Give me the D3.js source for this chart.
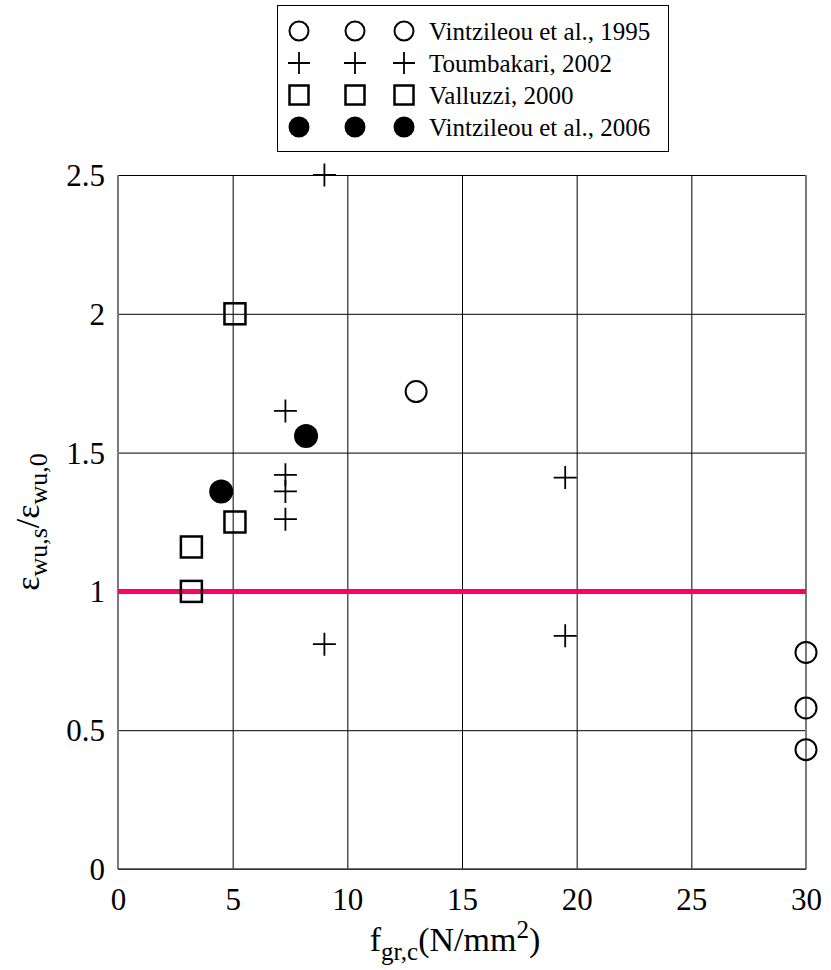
<!DOCTYPE html>
<html><head><meta charset="utf-8">
<script src="https://cdn.jsdelivr.net/npm/d3@7"></script>
<style>
body{margin:0;background:#fff;}
</style></head>
<body><svg id="c" width="831" height="970"></svg>
<script>
const xTicks = [0,5,10,15,20,25,30];
const yTicks = [0,0.5,1,1.5,2,2.5];
const yTickLabels = ["0","0.5","1","1.5","2","2.5"];
const seriesNames = ["Vintzileou et al., 1995","Toumbakari, 2002","Valluzzi, 2000","Vintzileou et al., 2006"];
const v1995X = [13,30,30,30];
const v1995Y = [1.72,0.78,0.58,0.43];
const toumbX = [9,7.3,7.3,7.3,7.3,9,19.5,19.5];
const toumbY = [2.5,1.65,1.42,1.36,1.26,0.81,1.41,0.84];
const vallX = [5.1,5.1,3.2,3.2];
const vallY = [2.0,1.25,1.16,1.0];
const v2006X = [4.5,8.2];
const v2006Y = [1.36,1.56];
const refLineY = 1;

const FONT = '"Liberation Serif", Tinos, "Times New Roman", serif';

const svg = d3.select("#c");
const L=118,R=806,T=175,B=869;
const x = d3.scaleLinear().domain([0,30]).range([L,R]);
const y = d3.scaleLinear().domain([0,2.5]).range([B,T]);

const g = svg.append("g");
g.append("g").attr("transform",`translate(0,${B})`)
 .call(d3.axisBottom(x).tickValues(xTicks).tickSize(-(B-T)).tickFormat(""))
 .call(s=>s.select(".domain").remove())
 .call(s=>s.selectAll("line").attr("stroke","#000").attr("stroke-width",1));
g.append("g").attr("transform",`translate(${L},0)`)
 .call(d3.axisLeft(y).tickValues(yTicks).tickSize(-(R-L)).tickFormat(""))
 .call(s=>s.select(".domain").remove())
 .call(s=>s.selectAll("line").attr("stroke","#000").attr("stroke-width",1));
svg.append("line").attr("x1",L).attr("x2",L).attr("y1",T).attr("y2",B).attr("stroke","#7a7a7a").attr("stroke-width",2);
svg.append("line").attr("x1",R).attr("x2",R).attr("y1",T).attr("y2",B).attr("stroke","#7a7a7a").attr("stroke-width",2);
svg.append("line").attr("x1",L).attr("x2",R).attr("y1",B).attr("y2",B).attr("stroke","#444").attr("stroke-width",1.5);

svg.append("g").attr("transform",`translate(0,${B})`)
 .call(d3.axisBottom(x).tickValues(xTicks).tickSize(0).tickPadding(0).tickFormat(d3.format("d")))
 .attr("font-family",FONT)
 .call(s=>s.select(".domain").remove())
 .call(s=>s.selectAll("text").attr("dy",null).attr("y",41).attr("font-size",31).attr("fill","#000"));
svg.append("g").attr("transform",`translate(105,0)`)
 .call(d3.axisLeft(y).tickValues(yTicks).tickSize(0).tickPadding(0).tickFormat((d,i)=>yTickLabels[i]))
 .attr("font-family",FONT)
 .call(s=>s.select(".domain").remove())
 .call(s=>s.selectAll("text").attr("x",0).attr("dy","0.34em").attr("font-size",31).attr("fill","#000"));

const xl = svg.append("text").attr("x",455).attr("y",951).attr("text-anchor","middle").attr("font-size",34).attr("font-family",FONT);
xl.append("tspan").text("f");
xl.append("tspan").attr("font-size",25).attr("dy",9).text("gr,c");
xl.append("tspan").attr("dy",-9).text("(N/mm");
xl.append("tspan").attr("font-size",25).attr("dy",-13).text("2");
xl.append("tspan").attr("dy",13).text(")");

const yl = svg.append("text").attr("transform",`translate(39,${(T+B)/2}) rotate(-90)`).attr("text-anchor","middle").attr("font-size",34).attr("font-family",FONT);
yl.append("tspan").text("ε");
yl.append("tspan").attr("font-size",26).attr("dy",8).text("wu,s");
yl.append("tspan").attr("dy",-8).text("/ε");
yl.append("tspan").attr("font-size",26).attr("dy",8).text("wu,0");

svg.append("line").attr("x1",x(0)).attr("x2",x(30)).attr("y1",y(refLineY)).attr("y2",y(refLineY))
 .attr("stroke","#ff0066").attr("stroke-width",5);

function circ(sel, r, filled){ sel.append("circle").attr("r",r).attr("fill",filled?"#000":"none").attr("stroke","#000").attr("stroke-width",filled?0:2); }
function plus(sel, h){ sel.append("path").attr("d",`M${-h},0H${h}M0,${-h}V${h}`).attr("stroke","#000").attr("stroke-width",1.8).attr("fill","none"); }
function sq(sel, h){ sel.append("rect").attr("x",-h).attr("y",-h).attr("width",2*h).attr("height",2*h).attr("fill","none").attr("stroke","#000").attr("stroke-width",2.5); }

const m = svg.append("g");
m.selectAll(".c95").data(d3.range(v1995X.length)).join("g").attr("transform",i=>`translate(${x(v1995X[i])},${y(v1995Y[i])})`).each(function(){circ(d3.select(this),10.5,false);});
m.selectAll(".tb").data(d3.range(toumbX.length)).join("g").attr("transform",i=>`translate(${x(toumbX[i])},${y(toumbY[i])})`).each(function(){plus(d3.select(this),11.5);});
m.selectAll(".va").data(d3.range(vallX.length)).join("g").attr("transform",i=>`translate(${x(vallX[i])},${y(vallY[i])})`).each(function(){sq(d3.select(this),10.5);});
m.selectAll(".v06").data(d3.range(v2006X.length)).join("g").attr("transform",i=>`translate(${x(v2006X[i])},${y(v2006Y[i])})`).each(function(){circ(d3.select(this),12,true);});

const lg = svg.append("g");
lg.append("rect").attr("x",277.5).attr("y",5.5).attr("width",391).attr("height",146).attr("fill","#fff").attr("stroke","#000").attr("stroke-width",1);
const symX=[299,355,404], rowY=[31,63,95,127];
seriesNames.forEach((nm,i)=>{
  symX.forEach(sx=>{
    const s = lg.append("g").attr("transform",`translate(${sx},${rowY[i]})`);
    if(i===0) circ(s,9.5,false);
    else if(i===1) plus(s,11);
    else if(i===2) sq(s,9.5);
    else circ(s,10.5,true);
  });
  lg.append("text").attr("x",429).attr("y",rowY[i]).attr("dy","0.34em").attr("font-size",25).attr("font-family",FONT).text(nm);
});
</script></body></html>
